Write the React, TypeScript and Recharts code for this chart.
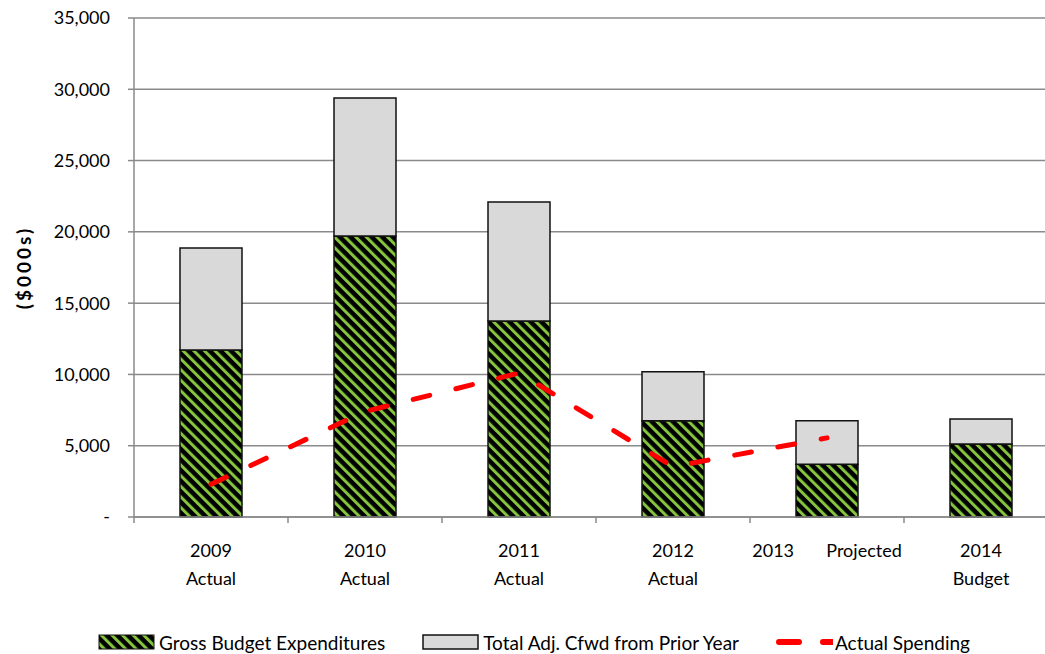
import React from 'react';
import { ComposedChart, Bar, Line, XAxis, YAxis, CartesianGrid, Legend } from 'recharts';

const CATEGORIES = ['2009', '2010', '2011', '2012', '2013', '2014'];
const TICK_LINES = [
  ['2009', 'Actual'],
  ['2010', 'Actual'],
  ['2011', 'Actual'],
  ['2012', 'Actual'],
  ['2013\u00a0\u00a0\u00a0\u00a0\u00a0\u00a0\u00a0Projected'],
  ['2014', 'Budget'],
];
const GROSS = [11710, 19710, 13750, 6750, 3700, 5120];
const CFWD = [7160, 9680, 8340, 3440, 3050, 1750];
const SPENDING = [2300, 7400, 10100, 3530, 5550, null];
const Y_TICKS = [0, 5000, 10000, 15000, 20000, 25000, 30000, 35000];

const data = CATEGORIES.map((c, i) => ({
  name: c,
  gross: GROSS[i],
  cfwd: CFWD[i],
  spending: SPENDING[i],
}));

const W = 1068;
const H = 654;
const Y_AXIS_W = 134;
const RIGHT = 10;
const HALF_BAND = (W - Y_AXIS_W - RIGHT) / CATEGORIES.length / 2;

const FONT = 'Lato, sans-serif';
const GRID = '#8a8a8a';
const GREEN = '#86c440';

const XTick = (props: any) => {
  const { x, y, payload } = props;
  const idx = CATEGORIES.indexOf(payload.value);
  const lines = TICK_LINES[idx] || [payload.value];
  return (
    <g>
      <line x1={x - HALF_BAND} x2={x - HALF_BAND} y1={y} y2={y + 6} stroke={GRID} strokeWidth={1.5} />
      <text x={x} y={y} textAnchor="middle" fontSize={18} fontFamily={FONT} fill="#000">
        {lines.map((l, i) => (
          <tspan key={i} x={x} y={y + 40 + i * 28}>
            {l}
          </tspan>
        ))}
      </text>
    </g>
  );
};

const YLabel = (props: any) => {
  const vb = props.viewBox || {};
  const cy = (vb.y || 0) + (vb.height || 0) / 2;
  return (
    <text
      x={23}
      y={cy}
      transform={`rotate(-90, 23, ${cy})`}
      textAnchor="middle"
      dominantBaseline="central"
      fontSize={19}
      fontWeight="bold"
      letterSpacing={3}
      fontFamily={FONT}
      fill="#000"
    >
      ($000s)
    </text>
  );
};

const LegendContent = () => (
  <div
    style={{
      height: 24,
      display: 'flex',
      justifyContent: 'center',
      alignItems: 'center',
      gap: 37,
      fontFamily: FONT,
      fontSize: 19,
      color: '#000',
    }}
  >
    <div style={{ display: 'flex', alignItems: 'center', gap: 4 }}>
      <svg width={57} height={16}>
        <defs>
          <pattern id="hatchLeg" patternUnits="userSpaceOnUse" width="7.5" height="7.5" patternTransform="rotate(-45)">
            <rect width="7.5" height="7.5" fill="#000" />
            <rect width="3" height="7.5" fill={GREEN} />
          </pattern>
        </defs>
        <rect x={1} y={1} width={55} height={14} fill="url(#hatchLeg)" stroke="#111" strokeWidth={1} />
      </svg>
      <span>Gross Budget Expenditures</span>
    </div>
    <div style={{ display: 'flex', alignItems: 'center', gap: 4 }}>
      <svg width={57} height={16}>
        <rect x={1} y={1} width={55} height={14} fill="#d9d9d9" stroke="#111" strokeWidth={1.5} />
      </svg>
      <span>Total Adj. Cfwd from Prior Year</span>
    </div>
    <div style={{ display: 'flex', alignItems: 'center', gap: 2 }}>
      <svg width={57} height={16}>
        <line x1={3} x2={57} y1={8} y2={8} stroke="#ff0000" strokeWidth={6} strokeDasharray="20 24" strokeLinecap="round" />
      </svg>
      <span>Actual Spending</span>
    </div>
  </div>
);

export default function App() {
  return (
    <div style={{ position: 'absolute', left: 0, top: 0, width: 1045, height: H, overflow: 'hidden', background: '#fff' }}>
      <ComposedChart width={W} height={H} data={data} margin={{ top: 18, right: RIGHT, left: 0, bottom: 0 }}>
        <defs>
          <pattern id="hatch" patternUnits="userSpaceOnUse" width="7.5" height="7.5" patternTransform="rotate(-45)">
            <rect width="7.5" height="7.5" fill="#000" />
            <rect width="3" height="7.5" fill={GREEN} />
          </pattern>
        </defs>
        <CartesianGrid vertical={false} stroke={GRID} strokeWidth={1.5} />
        <XAxis
          dataKey="name"
          height={113}
          tickSize={0}
          tickMargin={0}
          tick={<XTick />}
          axisLine={{ stroke: GRID, strokeWidth: 1.5 }}
          tickLine={false}
          interval={0}
        />
        <YAxis
          width={Y_AXIS_W}
          domain={[0, 35000]}
          ticks={Y_TICKS}
          tickFormatter={(v: number) => (v === 0 ? '-' : v.toLocaleString('en-US'))}
          tick={{ fontSize: 18, fontFamily: FONT, fill: '#000' }}
          tickSize={6}
          tickMargin={18}
          axisLine={{ stroke: GRID, strokeWidth: 1.5 }}
          tickLine={{ stroke: GRID, strokeWidth: 1.5 }}
          label={<YLabel />}
        />
        <Legend verticalAlign="bottom" content={<LegendContent />} wrapperStyle={{ left: 0, width: W }} />
        <Bar dataKey="gross" stackId="a" fill="url(#hatch)" stroke="#111" strokeWidth={1.5} barSize={62} isAnimationActive={false} />
        <Bar dataKey="cfwd" stackId="a" fill="#d9d9d9" stroke="#111" strokeWidth={1.5} barSize={62} isAnimationActive={false} />
        <Line
          dataKey="spending"
          type="linear"
          stroke="#ff0000"
          strokeWidth={5}
          strokeDasharray="17 27"
          strokeLinecap="round"
          dot={false}
          activeDot={false}
          connectNulls={false}
          isAnimationActive={false}
        />
      </ComposedChart>
    </div>
  );
}
